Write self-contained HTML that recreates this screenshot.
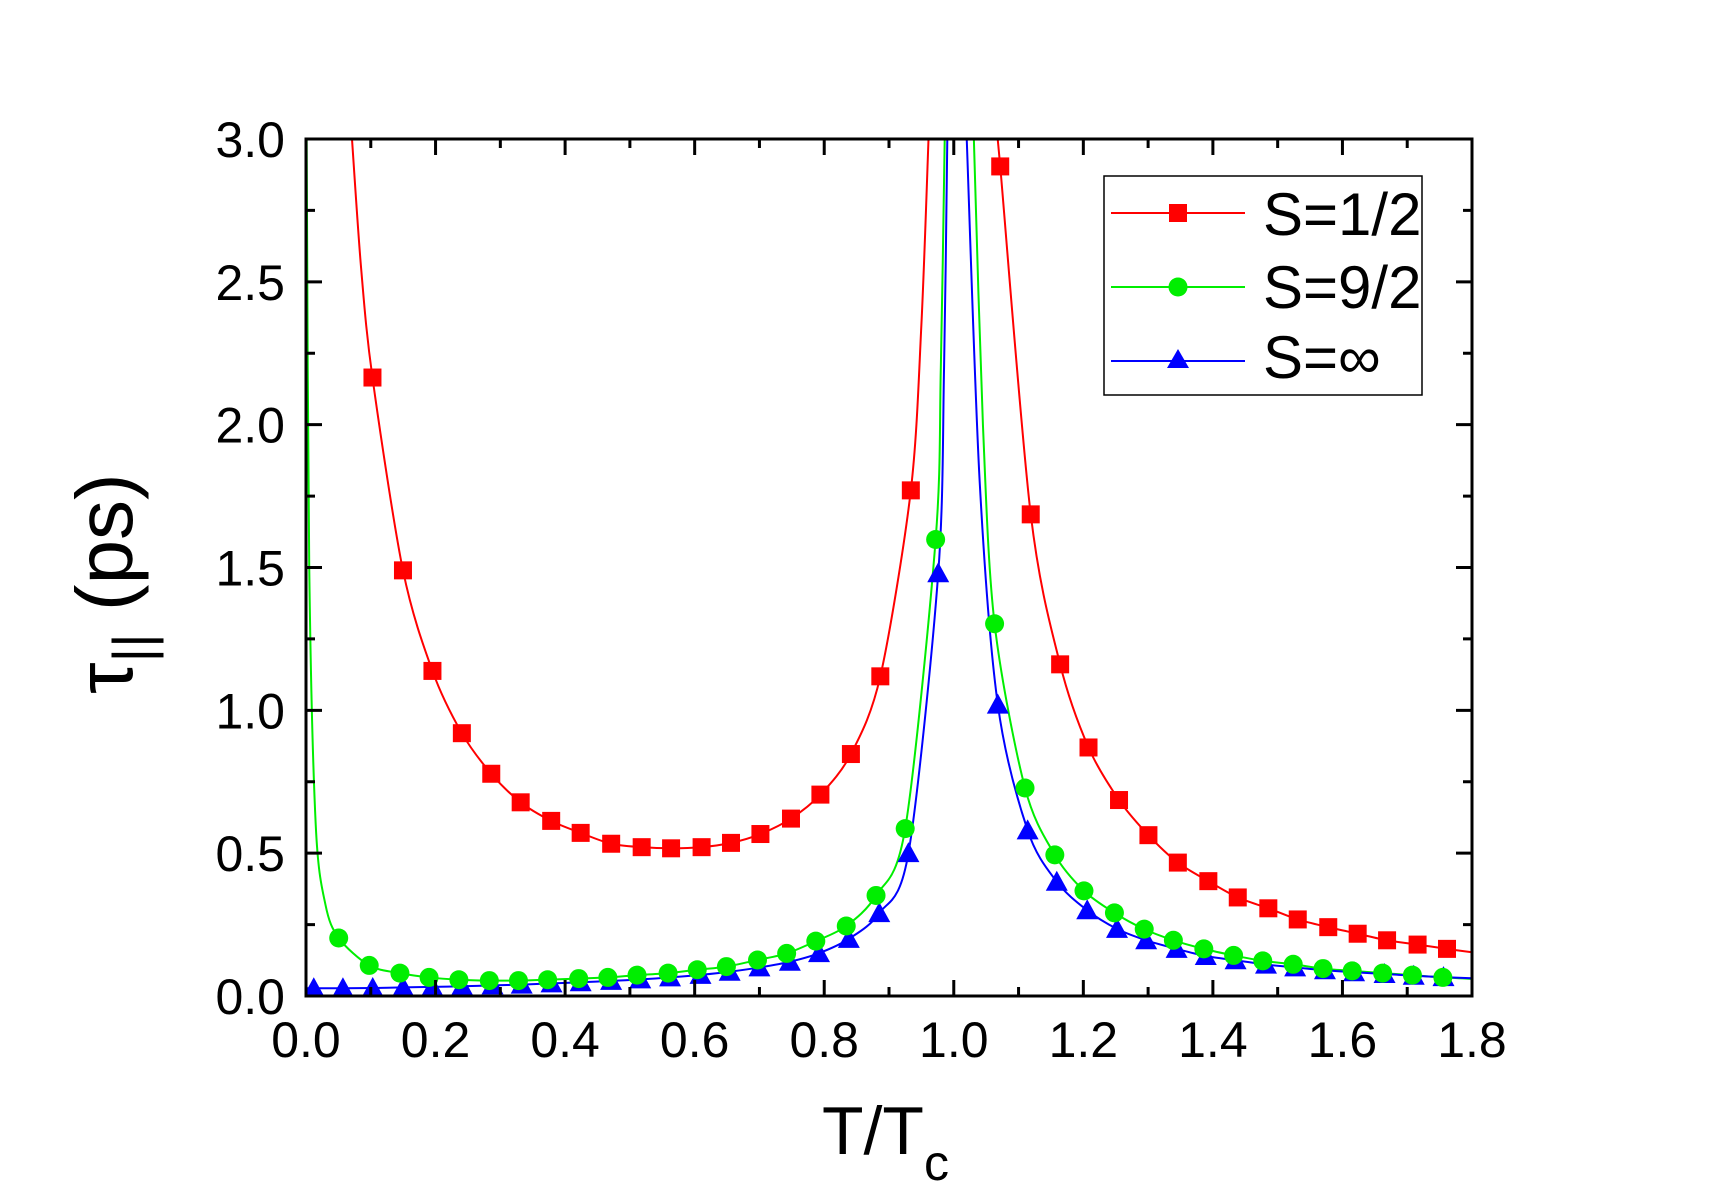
<!DOCTYPE html>
<html><head><meta charset="utf-8"><style>
html,body{margin:0;padding:0;background:#fff;}
svg{display:block;font-family:"Liberation Sans",Arial,sans-serif;}
</style></head><body>
<svg id="chart" width="1710" height="1194" viewBox="0 0 1710 1194" xmlns="http://www.w3.org/2000/svg">
<g id="series"></g>
<g id="axes"></g>
<text x="822" y="1154" font-size="68">T/T<tspan font-size="50" dy="26">c</tspan></text>
<text transform="translate(132,694) rotate(-90)" font-size="80">τ<tspan font-size="56" dy="20">||</tspan><tspan dy="-20"> (ps)</tspan></text>
<g>
<rect x="1104" y="176" width="318" height="219" fill="#fff" stroke="#000" stroke-width="1.5"/>
<g>
<line x1="1111" y1="213" x2="1245" y2="213" stroke="#ff0000" stroke-width="2"/>
<rect x="1169" y="204" width="18" height="18" fill="#ff0000"/>
<text x="1263" y="235" font-size="60">S=1/2</text></g>
<g>
<line x1="1111" y1="287" x2="1245" y2="287" stroke="#00ee00" stroke-width="2"/>
<circle cx="1178" cy="287" r="9.5" fill="#00ee00"/>
<text x="1263" y="308" font-size="60">S=9/2</text></g>
<g>
<line x1="1111" y1="361" x2="1245" y2="361" stroke="#0000ff" stroke-width="2"/>
<polygon points="1178,349 1189,368 1167,368" fill="#0000ff"/>
<text x="1263" y="378" font-size="60">S=∞</text></g>
</g>
</svg>
<script>
const xTicks=[0,0.2,0.4,0.6,0.8,1.0,1.2,1.4,1.6,1.8];
const xTickLabels=["0.0","0.2","0.4","0.6","0.8","1.0","1.2","1.4","1.6","1.8"];
const yTicks=[0,0.5,1.0,1.5,2.0,2.5,3.0];
const yTickLabels=["0.0","0.5","1.0","1.5","2.0","2.5","3.0"];

const redMarkX=[0.1026,0.1497,0.1952,0.2406,0.2860,0.3314,0.3785,0.4240,0.4711,0.5182,0.5636,0.6107,0.6561,0.7015,0.7487,0.7941,0.8412,0.8866,0.9337,1.0717,1.1188,1.1642,1.2080,1.2551,1.3005,1.3459,1.3930,1.4384,1.4856,1.5310,1.5781,1.6235,1.6689,1.7160,1.7614];
const redMarkY=[2.165,1.490,1.138,0.920,0.778,0.678,0.613,0.571,0.533,0.521,0.517,0.521,0.536,0.567,0.621,0.705,0.847,1.119,1.770,2.904,1.686,1.161,0.870,0.686,0.563,0.467,0.402,0.345,0.307,0.268,0.241,0.218,0.195,0.180,0.165];
const greenMarkX=[0.0505,0.0976,0.145,0.190,0.236,0.283,0.328,0.373,0.421,0.466,0.511,0.559,0.604,0.649,0.697,0.742,0.787,0.834,0.880,0.925,0.972,1.063,1.110,1.156,1.201,1.248,1.294,1.339,1.386,1.432,1.477,1.524,1.570,1.615,1.662,1.708,1.755];
const greenMarkY=[0.203,0.107,0.080,0.065,0.057,0.054,0.054,0.057,0.061,0.065,0.073,0.080,0.092,0.103,0.126,0.149,0.192,0.245,0.352,0.586,1.598,1.303,0.728,0.494,0.368,0.291,0.234,0.195,0.165,0.142,0.123,0.111,0.096,0.088,0.080,0.073,0.065];
const blueMarkX=[0.012,0.057,0.103,0.150,0.195,0.241,0.288,0.333,0.379,0.424,0.471,0.516,0.562,0.609,0.654,0.700,0.747,0.792,0.838,0.885,0.930,0.976,1.068,1.114,1.159,1.206,1.252,1.297,1.344,1.389,1.435,1.482,1.527,1.573,1.618,1.665,1.710,1.756];
const blueMarkY=[0.027,0.027,0.028,0.030,0.032,0.034,0.037,0.040,0.044,0.048,0.053,0.058,0.065,0.074,0.085,0.100,0.120,0.150,0.200,0.290,0.500,1.480,1.020,0.580,0.400,0.300,0.235,0.195,0.165,0.140,0.125,0.110,0.100,0.090,0.083,0.077,0.071,0.066];

const redLeftX=[0.071,0.085,0.1026,0.1497,0.1952,0.2406,0.2860,0.3314,0.3785,0.4240,0.4711,0.5182,0.5636,0.6107,0.6561,0.7015,0.7487,0.7941,0.8412,0.8866,0.9337,0.950,0.961];
const redLeftY=[3.0,2.55,2.165,1.490,1.138,0.920,0.778,0.678,0.613,0.571,0.533,0.521,0.517,0.521,0.536,0.567,0.621,0.705,0.847,1.119,1.770,2.35,3.0];
const redRightX=[1.067,1.0717,1.1188,1.1642,1.2080,1.2551,1.3005,1.3459,1.3930,1.4384,1.4856,1.5310,1.5781,1.6235,1.6689,1.7160,1.7614,1.8];
const redRightY=[3.0,2.904,1.686,1.161,0.870,0.686,0.563,0.467,0.402,0.345,0.307,0.268,0.241,0.218,0.195,0.180,0.165,0.153];
const greenLeftX=[0.001,0.005,0.015,0.030,0.0505,0.0976,0.145,0.190,0.236,0.283,0.328,0.373,0.421,0.466,0.511,0.559,0.604,0.649,0.697,0.742,0.787,0.834,0.880,0.925,0.972,0.980,0.986];
const greenLeftY=[3.0,1.5,0.6,0.32,0.203,0.107,0.080,0.065,0.057,0.054,0.054,0.057,0.061,0.065,0.073,0.080,0.092,0.103,0.126,0.149,0.192,0.245,0.352,0.586,1.598,2.2,3.0];
const greenRightX=[1.031,1.045,1.063,1.110,1.156,1.201,1.248,1.294,1.339,1.386,1.432,1.477,1.524,1.570,1.615,1.662,1.708,1.755,1.8];
const greenRightY=[3.0,2.0,1.303,0.728,0.494,0.368,0.291,0.234,0.195,0.165,0.142,0.123,0.111,0.096,0.088,0.080,0.073,0.065,0.060];
const blueLeftX=[0.0,0.012,0.057,0.103,0.150,0.195,0.241,0.288,0.333,0.379,0.424,0.471,0.516,0.562,0.609,0.654,0.700,0.747,0.792,0.838,0.885,0.930,0.976,0.985,0.990];
const blueLeftY=[0.027,0.027,0.027,0.028,0.030,0.032,0.034,0.037,0.040,0.044,0.048,0.053,0.058,0.065,0.074,0.085,0.100,0.120,0.150,0.200,0.290,0.500,1.480,2.2,3.0];
const blueRightX=[1.020,1.040,1.068,1.114,1.159,1.206,1.252,1.297,1.344,1.389,1.435,1.482,1.527,1.573,1.618,1.665,1.710,1.756,1.8];
const blueRightY=[3.0,1.8,1.020,0.580,0.400,0.300,0.235,0.195,0.165,0.140,0.125,0.110,0.100,0.090,0.083,0.077,0.071,0.066,0.062];

const X0=306,X1=1472,Y0=996,Y1=139;
function sx(v){return X0+(v-0)/(1.8-0)*(X1-X0);}
function sy(v){return Y0-(v-0)/(3.0-0)*(Y0-Y1);}
const NS="http://www.w3.org/2000/svg";
function mk(tag,attrs,parent){const e=document.createElementNS(NS,tag);for(const k in attrs)e.setAttribute(k,attrs[k]);parent.appendChild(e);return e;}
const svg=document.getElementById('chart');
const series=document.getElementById('series');
const axes=document.getElementById('axes');

const defs=mk('defs',{},svg);
const cp=mk('clipPath',{id:'clip'},defs);
mk('rect',{x:X0,y:Y1,width:X1-X0,height:Y0-Y1},cp);
series.setAttribute('clip-path','url(#clip)');

function pathD(xs,ys){
  const p=xs.map((x,i)=>[sx(x),sy(ys[i])]);
  let d='M'+p[0][0]+','+p[0][1];
  for(let i=0;i<p.length-1;i++){
    const a=p[Math.max(0,i-1)],b=p[i],c=p[i+1],e=p[Math.min(p.length-1,i+2)];
    const t=0.15;
    d+=' C'+(b[0]+(c[0]-a[0])*t)+','+(b[1]+(c[1]-a[1])*t)+' '+(c[0]-(e[0]-b[0])*t)+','+(c[1]-(e[1]-b[1])*t)+' '+c[0]+','+c[1];
  }
  return d;
}
function drawLine(xs,ys,color,name){
  const e=mk('path',{d:pathD(xs,ys),fill:'none',stroke:color,'stroke-width':2},series);
  
  
}
drawLine(redLeftX,redLeftY,'#ff0000','line-s-half-below-tc');
drawLine(redRightX,redRightY,'#ff0000','line-s-half-above-tc');
drawLine(greenLeftX,greenLeftY,'#00ee00','line-s-nine-half-below-tc');
drawLine(greenRightX,greenRightY,'#00ee00','line-s-nine-half-above-tc');
drawLine(blueLeftX,blueLeftY,'#0000ff','line-s-infinity-below-tc');
drawLine(blueRightX,blueRightY,'#0000ff','line-s-infinity-above-tc');

blueMarkX.forEach((x,i)=>{
  const cx=sx(x),cy=sy(blueMarkY[i]);
  const e=mk('polygon',{points:(cx)+','+(cy-11)+' '+(cx+11)+','+(cy+9)+' '+(cx-11)+','+(cy+9),fill:'#0000ff'},series);
  
  
});
greenMarkX.forEach((x,i)=>{
  const e=mk('circle',{cx:sx(x),cy:sy(greenMarkY[i]),r:9.5,fill:'#00ee00'},series);
  
  
});
redMarkX.forEach((x,i)=>{
  const e=mk('rect',{x:sx(x)-9,y:sy(redMarkY[i])-9,width:18,height:18,fill:'#ff0000'},series);
  
  
});

// frame
const fr=mk('rect',{x:X0,y:Y1,width:X1-X0,height:Y0-Y1,fill:'none',stroke:'#000','stroke-width':3},axes);


// x ticks
for(let i=0;i<xTicks.length;i++){
  const x=sx(xTicks[i]);
  const t=mk('path',{d:'M'+x+','+Y0+'v-16M'+x+','+Y1+'v16',stroke:'#000','stroke-width':3},axes);
  
  
  if(i<xTicks.length-1){
    const xm=sx((xTicks[i]+xTicks[i+1])/2);
    const m=mk('path',{d:'M'+xm+','+Y0+'v-9M'+xm+','+Y1+'v9',stroke:'#000','stroke-width':3},axes);
    
    
  }
  const l=mk('text',{x:x,y:1057,'font-size':50,'text-anchor':'middle'},axes);
  l.textContent=xTickLabels[i];
  
  
}
for(let i=0;i<yTicks.length;i++){
  const y=sy(yTicks[i]);
  const t=mk('path',{d:'M'+X0+','+y+'h16M'+X1+','+y+'h-16',stroke:'#000','stroke-width':3},axes);
  
  
  if(i<yTicks.length-1){
    const ym=sy((yTicks[i]+yTicks[i+1])/2);
    const m=mk('path',{d:'M'+X0+','+ym+'h9M'+X1+','+ym+'h-9',stroke:'#000','stroke-width':3},axes);
    
    
  }
  const l=mk('text',{x:285,y:y+18,'font-size':50,'text-anchor':'end'},axes);
  l.textContent=yTickLabels[i];
  
  
}
</script>
</body></html>
